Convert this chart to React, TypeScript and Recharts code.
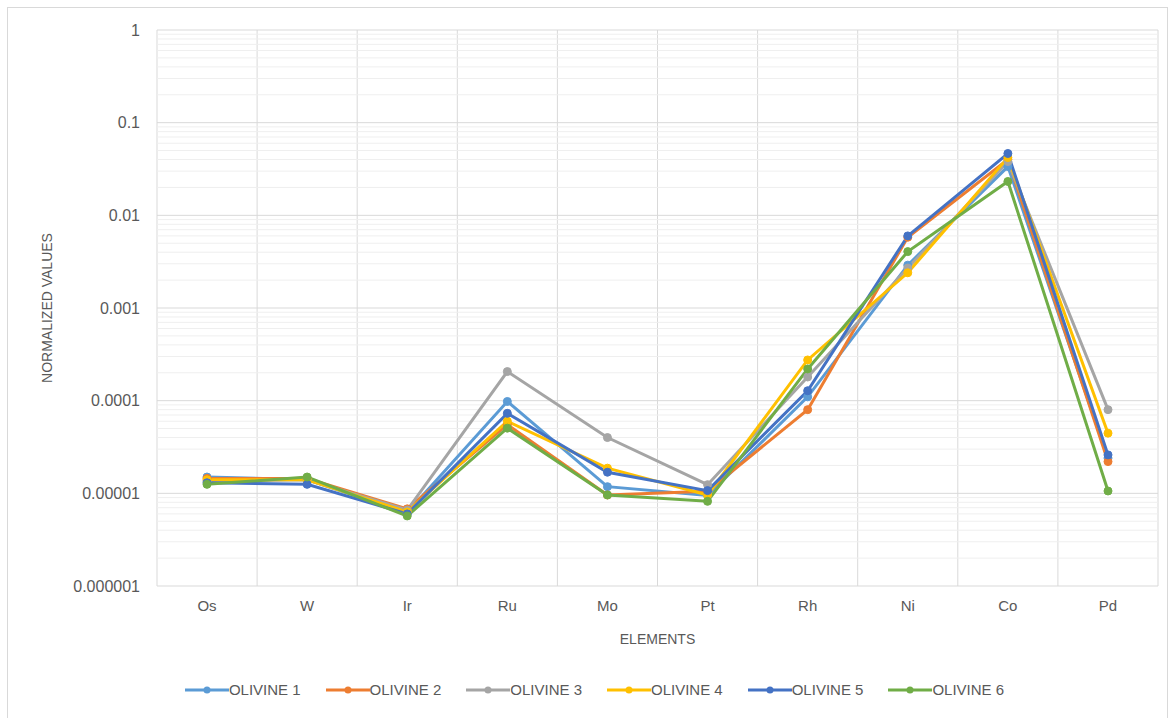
import React from 'react';
import { LineChart, Line, XAxis, YAxis, CartesianGrid, ReferenceLine, Legend } from 'recharts';

const elements = ['Os', 'W', 'Ir', 'Ru', 'Mo', 'Pt', 'Rh', 'Ni', 'Co', 'Pd'];
const olivine1 = [1.5e-5, 1.4e-5, 6.2e-6, 9.8e-5, 1.18e-5, 9.5e-6, 1.1e-4, 2.9e-3, 0.0336, 2.4e-5];
const olivine2 = [1.45e-5, 1.45e-5, 6.8e-6, 5.5e-5, 9.6e-6, 1.05e-5, 8.0e-5, 5.8e-3, 0.040, 2.2e-5];
const olivine3 = [1.35e-5, 1.4e-5, 6.6e-6, 2.06e-4, 4.0e-5, 1.24e-5, 1.8e-4, 2.7e-3, 0.038, 8.0e-5];
const olivine4 = [1.4e-5, 1.4e-5, 6.3e-6, 6.0e-5, 1.87e-5, 9.6e-6, 2.75e-4, 2.4e-3, 0.042, 4.46e-5];
const olivine5 = [1.3e-5, 1.25e-5, 6.0e-6, 7.3e-5, 1.69e-5, 1.07e-5, 1.28e-4, 6.0e-3, 0.0465, 2.6e-5];
const olivine6 = [1.25e-5, 1.5e-5, 5.7e-6, 5.05e-5, 9.6e-6, 8.2e-6, 2.2e-4, 4.06e-3, 0.0232, 1.06e-5];

const yTicks = [0.000001, 0.00001, 0.0001, 0.001, 0.01, 0.1, 1];
const yTickLabels = ['0.000001', '0.00001', '0.0001', '0.001', '0.01', '0.1', '1'];

const seriesNames = ['OLIVINE 1', 'OLIVINE 2', 'OLIVINE 3', 'OLIVINE 4', 'OLIVINE 5', 'OLIVINE 6'];
const seriesValues = [olivine1, olivine2, olivine3, olivine4, olivine5, olivine6];
const seriesColors = ['#5B9BD5', '#ED7D31', '#A5A5A5', '#FFC000', '#4472C4', '#70AD47'];

const data = elements.map((el, i) => {
  const row: Record<string, any> = { element: el };
  seriesNames.forEach((n, s) => {
    row[n] = seriesValues[s][i];
  });
  return row;
});

// minor log gridlines (2..9 x 10^k)
const minorGrid: number[] = [];
for (let k = -6; k < 0; k++) {
  for (let m = 2; m <= 9; m++) minorGrid.push(m * Math.pow(10, k));
}

const FONT = '"Liberation Sans", Arial, sans-serif';
const TEXT = '#595959';

const LegendContent = () => (
  <div style={{ display: 'flex', justifyContent: 'center', fontFamily: FONT, fontSize: 15, color: TEXT, paddingRight: 46 }}>
    {seriesNames.map((n, i) => (
      <div key={n} style={{ display: 'flex', alignItems: 'center', marginRight: i < seriesNames.length - 1 ? 25 : 0 }}>
        <svg width={44} height={12}>
          <line x1={0} y1={6} x2={44} y2={6} stroke={seriesColors[i]} strokeWidth={3} />
          <circle cx={22} cy={6} r={3.5} fill={seriesColors[i]} />
        </svg>
        <span>{n}</span>
      </div>
    ))}
  </div>
);

export default function App() {
  return (
    <div style={{ position: 'absolute', left: 0, top: 0, width: 1174, height: 718, background: '#fff', overflow: 'hidden' }}>
      <div style={{ position: 'absolute', left: 7, top: 7, width: 1159, height: 730, border: '1px solid #d9d9d9' }} />
      <div style={{ position: 'absolute', left: 0, top: 0 }}>
        <LineChart
          width={1174}
          height={718}
          data={data}
          margin={{ top: 30, right: 16, bottom: 20, left: 77 }}
        >
          <CartesianGrid
            stroke="#d9d9d9"
            strokeWidth={1}
            verticalCoordinatesGenerator={({ offset }: any) =>
              Array.from({ length: elements.length + 1 }, (_, i) => offset.left + (i * offset.width) / elements.length)
            }
          />
          {minorGrid.map((v) => (
            <ReferenceLine key={v} y={v} stroke="#efefef" strokeWidth={1} ifOverflow="hidden" />
          ))}
          <XAxis
            dataKey="element"
            tickLine={false}
            axisLine={false}
            tickSize={0}
            tickMargin={14}
            height={60}
            padding={{ left: 50, right: 50 }}
            tick={{ fill: TEXT, fontSize: 15, fontFamily: FONT }}
            label={{ value: 'ELEMENTS', position: 'insideBottom', offset: 2, fill: TEXT, fontSize: 14, fontFamily: FONT }}
          />
          <YAxis
            scale="log"
            domain={[0.000001, 1]}
            ticks={yTicks}
            allowDataOverflow
            tickLine={false}
            axisLine={false}
            tickSize={0}
            tickMargin={17}
            width={80}
            tickFormatter={(v: number) => {
              const idx = yTicks.findIndex((t) => Math.abs(Math.log10(t) - Math.log10(v)) < 1e-6);
              return idx >= 0 ? yTickLabels[idx] : '';
            }}
            tick={{ fill: TEXT, fontSize: 16, fontFamily: FONT }}
            label={{
              value: 'NORMALIZED  VALUES',
              angle: -90,
              position: 'center',
              dx: -70,
              fill: TEXT,
              fontSize: 14,
              fontFamily: FONT,
              style: { whiteSpace: 'pre' },
            }}
          />
          {seriesNames.map((n, i) => (
            <Line
              key={n}
              dataKey={n}
              name={n}
              stroke={seriesColors[i]}
              strokeWidth={3}
              dot={{ r: 4, fill: seriesColors[i], stroke: seriesColors[i], strokeWidth: 1 }}
              activeDot={false}
              isAnimationActive={false}
            />
          ))}
          <Legend verticalAlign="bottom" height={52} wrapperStyle={{ top: 681 }} content={<LegendContent />} />
        </LineChart>
      </div>
    </div>
  );
}
